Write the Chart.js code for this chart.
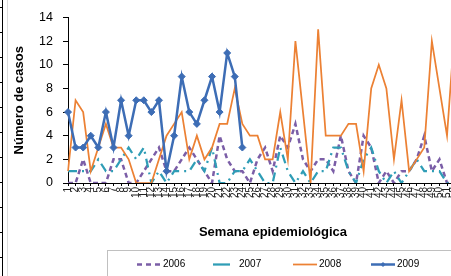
<!DOCTYPE html>
<html><head><meta charset="utf-8">
<script src="https://cdn.jsdelivr.net/npm/chart.js@4.4.0/dist/chart.umd.min.js"></script>
<style>
html,body{margin:0;padding:0;background:#fff;overflow:hidden;width:451px;height:276px;}
#wrap{position:absolute;left:0;top:0;width:470px;height:276px;}
#edge{position:absolute;left:2px;top:0;width:1px;height:276px;background:#000;}
#ticks{position:absolute;left:0;top:0;width:2px;height:276px;background:linear-gradient(to bottom, transparent 7px, #000 7px, #000 8px, transparent 8px) 0 0/2px 25px repeat-y;}
#edge2{position:absolute;left:7px;top:0;width:1px;height:276px;background:#dcdcdc;}
</style></head>
<body>
<div id="wrap"><canvas id="c" width="470" height="276"></canvas></div>
<div id="edge"></div><div id="ticks"></div><div id="edge2"></div>
<script>
const weeks = ['1','2','3','4','5','6','7','8','9','10','11','12','13','14','15','16','17','18','19','20','21','22','23','24','25','26','27','28','29','30','31','32','33','34','35','36','37','38','39','40','41','42','43','44','45','46','47','48','49','50','51','52'];
const s2006 = [0,0,2,0,0,0,2,2,0,0, 1,2,3,1,1,2,3,2,1,0, 4,2,1,1,0,2,3,1,4,3, 5,2,1,2,2,1,4,1,0,4, 3,0,1,0,1,1,2,4,1,2, 0,0];
const s2007 = [1,1,1,1,2,1,1,2,3,2, 3,0,1,0,1,1,1,2,1,3, 0,0,1,1,2,1,0,0,3,1, 0,1,0,1,1,3,3,1,0,2, 3,1,0,1,0,1,2,1,1,1, 0,0];
const s2008 = [1,7,6,1,3,5,3,3,2,0, 0,0,2,4,5,6,2,4,2,3, 5,5,8,5,4,4,2,2,6,2, 12,6,0,13,4,4,4,5,5,1, 8,10,8,2,7,1,2,3,12,8, 4,13];
const s2009 = [6,3,3,4,3,6,3,7,4,7, 7,6,7,1,4,9,6,5,7,9, 6,11,9,3];
const seriesNames = ['2006','2007','2008','2009'];
const yTitle = 'Número de casos';
const xTitle = 'Semana epidemiológica';
const FONT = '"Liberation Sans", Arial, sans-serif';

const legendPos = [137, 213, 293, 371];
const legendDash = [[5,4],[17,7,2,10],[],[]];

const deco = {
  id:'deco',
  afterDraw(chart){
    const ctx = chart.ctx;
    ctx.save();
    ctx.fillStyle = '#000';
    ctx.font = 'bold 13px ' + FONT;
    ctx.textAlign = 'center'; ctx.textBaseline = 'middle';
    ctx.fillText(xTitle, 273, 232);
    ctx.strokeStyle = '#c0c0c0'; ctx.lineWidth = 1;
    ctx.strokeRect(107.5, 250.5, 420, 60);
    ctx.font = '10px ' + FONT;
    ctx.textAlign = 'left';
    chart.data.datasets.forEach((ds, i) => {
      const x0 = legendPos[i], y = 264.5, len = 24;
      ctx.save();
      ctx.strokeStyle = ds.borderColor;
      ctx.lineWidth = ds.borderWidth;
      ctx.setLineDash(legendDash[i]);
      ctx.beginPath(); ctx.moveTo(x0, y); ctx.lineTo(x0 + len, y); ctx.stroke();
      ctx.setLineDash([]);
      if (ds.pointRadius > 0) {
        const cx = x0 + len/2, r = 2.5;
        ctx.fillStyle = ds.borderColor;
        ctx.beginPath(); ctx.moveTo(cx, y - r); ctx.lineTo(cx + r, y); ctx.lineTo(cx, y + r); ctx.lineTo(cx - r, y); ctx.closePath(); ctx.fill();
      }
      ctx.restore();
      ctx.fillStyle = '#000';
      ctx.fillText(ds.label, x0 + len + 2, y);
    });
    ctx.restore();
  }
};

new Chart(document.getElementById('c'), {
  type: 'line',
  data: {
    labels: weeks,
    datasets: [
      {label: seriesNames[0], data: s2006, borderColor:'#7b5ea7', backgroundColor:'#7b5ea7', borderWidth:2.5, borderDash:[5,3.5], pointRadius:0, order:3},
      {label: seriesNames[1], data: s2007, borderColor:'#2f9db6', backgroundColor:'#2f9db6', borderWidth:2.25, borderDash:[9,5,2,5], pointRadius:0, order:2},
      {label: seriesNames[2], data: s2008, borderColor:'#ec8134', backgroundColor:'#ec8134', borderWidth:1.75, pointRadius:0, order:1},
      {label: seriesNames[3], data: s2009, borderColor:'#3d6db5', backgroundColor:'#3d6db5', borderWidth:2.5, pointRadius:3.5, pointStyle:'rectRot', pointBorderWidth:1, order:0}
    ]
  },
  options: {
    responsive:false, animation:false,
    layout:{padding:{left:0, top:13, right:15.4, bottom:0}},
    plugins:{legend:{display:false}, tooltip:{enabled:false}},
    elements:{line:{tension:0}},
    scales:{
      x:{
        offset:false,
        grid:{display:true, drawOnChartArea:false, drawTicks:true, tickLength:3, color:'#000'},
        border:{display:true, color:'#000', width:1},
        ticks:{autoSkip:false, maxRotation:90, minRotation:90, padding:1, color:'#222', font:{family:FONT, size:10}},
        afterFit(s){ s.height = 93; }
      },
      y:{
        min:0, max:14,
        ticks:{stepSize:2, padding:10, color:'#000', font:{family:FONT, size:12.5}},
        grid:{display:true, drawOnChartArea:false, drawTicks:true, tickLength:5, color:'#000'},
        border:{display:true, color:'#000', width:1},
        title:{display:true, text:yTitle, color:'#000', font:{family:FONT, size:13, weight:'bold'}, padding:{top:12, bottom:0}},
        afterFit(s){ s.width = 68; }
      }
    }
  },
  plugins:[deco]
});
</script>
</body></html>
